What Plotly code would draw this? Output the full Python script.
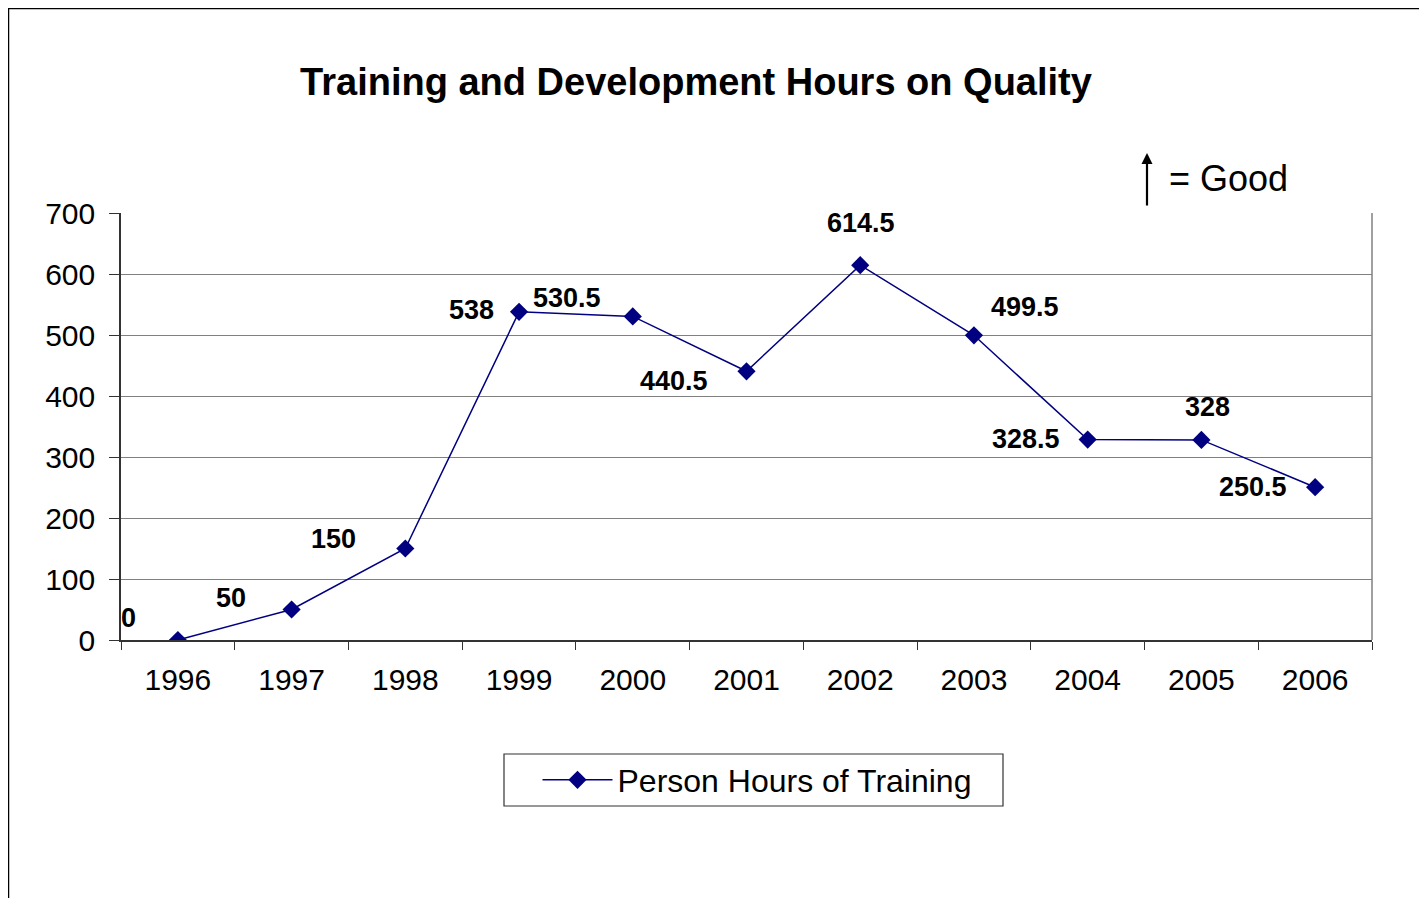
import plotly.graph_objects as go

years = ["1996", "1997", "1998", "1999", "2000", "2001", "2002", "2003", "2004", "2005", "2006"]
hours = [0, 50, 150, 538, 530.5, 440.5, 614.5, 499.5, 328.5, 328, 250.5]
label_texts = ["0", "50", "150", "538", "530.5", "440.5", "614.5", "499.5", "328.5", "328", "250.5"]
y_ticks = [0, 100, 200, 300, 400, 500, 600, 700]
series_name = "Person Hours of Training"
title_text = "<b>Training and Development Hours on Quality</b>"

# pixel offsets of the value labels relative to their points (style only)
label_dx = [-49, -61, -72, -48, -66, -73, 1, 51, -62, 6, -62]
label_dy = [22, 12, 10, 2, 18, -10, 42, 28, 1, 33, 0]

OFF = 8  # browser body margin
W, H = 1427 - OFF, 898 - OFF
L, R, T, B = 121 - OFF, 1372 - OFF, 213 - OFF, 640 - OFF
FONT = "Liberation Sans, Arial"

pw, ph = R - L, B - T
def px(x):  # reference page pixel -> paper x
    return (x - OFF - L) / pw
def py(y):  # reference page pixel -> paper y
    return (B - (y - OFF)) / ph

fig = go.Figure()
fig.add_trace(go.Scatter(
    x=years, y=hours, mode="lines+markers", name=series_name,
    line=dict(color="#000080", width=1.5),
    marker=dict(symbol="diamond", size=14, color="#000080"),
))

for i, (v, t, dx, dy) in enumerate(zip(hours, label_texts, label_dx, label_dy)):
    fig.add_annotation(x=i, y=v, xref="x", yref="y", text="<b>%s</b>" % t, showarrow=False,
                       xshift=dx, yshift=dy, font=dict(size=27, color="black", family=FONT))

# black frame around the chart area
fig.add_shape(type="rect", xref="paper", yref="paper", x0=px(8.5), x1=px(1440), y0=py(910), y1=py(8.5),
              fillcolor="rgba(0,0,0,0)", line=dict(color="black", width=1.5), layer="below")

# legend box
fig.add_shape(type="rect", xref="paper", yref="paper", x0=px(504), x1=px(1003), y0=py(806), y1=py(754),
              fillcolor="white", line=dict(color="#333333", width=1.2), layer="below")

# "= Good" indicator
fig.add_annotation(xref="paper", yref="paper", x=px(1147), y=py(153), ax=0, ay=54,
                   text="", showarrow=True, arrowhead=2, arrowsize=1,
                   arrowwidth=2.2, arrowcolor="black")
fig.add_annotation(xref="paper", yref="paper", x=px(1167), y=py(179), text="= Good", showarrow=False,
                   xanchor="left", yanchor="middle", font=dict(size=36, color="black", family=FONT))

fig.update_layout(
    width=W, height=H,
    margin=dict(l=L, r=W - R, t=T, b=H - B, pad=0),
    paper_bgcolor="white", plot_bgcolor="white",
    title=dict(text=title_text, xref="container", x=(696 - OFF) / W, xanchor="center",
               y=1 - (82 - OFF) / H, yanchor="middle",
               font=dict(size=38, color="black", family=FONT)),
    font=dict(family=FONT, color="black"),
    showlegend=True,
    legend=dict(orientation="h", x=px(757), xanchor="center", y=py(780), yanchor="middle",
                borderwidth=0, bgcolor="rgba(0,0,0,0)", itemwidth=70,
                font=dict(size=32, color="black")),
)

fig.update_xaxes(type="category", range=[-0.5, len(years) - 0.5], tickson="boundaries",
                 ticks="outside", ticklen=8, tickcolor="#333333", tickangle=0, ticklabelstandoff=12,
                 showline=True, linecolor="#333333", linewidth=1.5, mirror=False, showgrid=False,
                 tickfont=dict(size=30, color="black"), zeroline=False)
fig.update_yaxes(range=[0, 700], tickvals=y_ticks, ticks="outside", ticklen=10, tickcolor="#333333",
                 ticklabelstandoff=8,
                 showline=True, linecolor="#333333", linewidth=1.5, showgrid=True, gridcolor="#808080",
                 gridwidth=1, zeroline=False, tickfont=dict(size=30, color="black"))

# grey right border of plot area
fig.add_shape(type="line", xref="paper", yref="paper", x0=1, x1=1, y0=0, y1=1,
              line=dict(color="#808080", width=1.5))

fig.write_html("out.html")
